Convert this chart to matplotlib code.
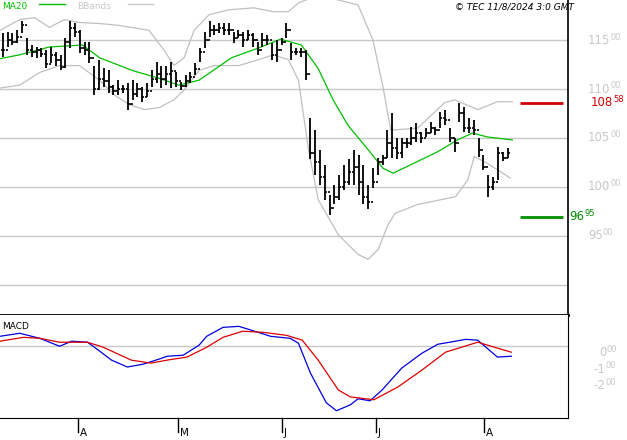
import matplotlib
matplotlib.use("Agg")
import matplotlib.pyplot as plt
import numpy as np

highs = [115.7,115.8,115.7,116.0,117.0,115.2,114.5,114.3,114.2,114.0,114.3,113.8,113.5,115.2,117.0,116.8,116.0,114.8,114.8,112.4,
         113.0,112.2,111.9,110.4,110.9,110.4,110.6,110.9,110.6,110.2,110.6,111.9,112.8,112.4,112.4,112.8,111.7,110.7,111.4,111.7,
         112.7,114.2,115.8,117.0,116.5,116.8,116.8,116.8,115.8,116.0,115.8,116.0,115.7,114.8,115.7,115.5,114.7,115.0,115.2,116.7,
         114.7,114.2,114.2,114.0,107.0,105.8,103.8,102.2,99.2,100.2,101.2,102.2,102.8,103.8,103.3,102.2,100.2,101.9,103.0,103.3,
         105.8,107.6,105.0,105.0,105.0,106.1,106.5,105.6,106.0,106.6,106.1,107.7,107.9,106.0,105.0,108.6,108.2,107.0,106.8,105.0,
         103.3,101.2,101.0,104.1,103.6,104.0]
lows = [113.3,114.3,114.5,114.7,115.7,113.5,113.3,113.2,113.3,112.1,112.7,112.4,111.9,112.2,114.2,115.3,113.7,113.5,112.7,109.4,
        109.9,110.2,109.6,109.4,109.4,109.6,107.9,108.9,109.2,108.7,109.2,110.2,110.6,110.1,110.4,110.1,110.2,109.9,110.2,110.6,
        111.4,112.8,114.2,115.3,115.5,115.7,115.5,115.5,114.7,115.2,114.3,115.0,114.3,113.5,114.3,114.5,113.0,112.8,114.5,115.2,
        113.0,113.5,113.3,110.9,102.8,101.2,100.2,98.7,97.1,98.2,98.7,99.7,100.2,100.2,99.2,98.2,97.7,99.9,101.2,102.2,
        103.0,103.0,102.8,103.0,104.0,104.3,104.6,104.5,105.1,105.5,105.3,106.0,106.3,104.6,103.6,106.6,105.6,105.5,105.3,103.1,
        101.7,99.0,99.7,100.7,102.6,103.0]
closes = [114.0,115.0,114.8,115.3,116.5,114.0,113.8,114.0,113.6,112.6,113.5,113.0,112.3,114.8,116.2,115.8,114.2,114.0,113.2,110.0,
          111.0,110.8,110.2,109.8,110.0,110.0,108.5,109.5,110.0,109.2,109.8,111.0,111.5,111.0,111.5,111.8,110.8,110.3,110.8,111.2,
          112.0,113.8,115.0,116.0,116.0,116.2,116.0,116.0,115.2,115.5,115.0,115.5,115.0,114.0,115.0,115.0,113.5,114.0,114.8,116.0,
          113.8,113.8,113.8,111.5,103.5,102.5,101.0,99.5,97.8,99.0,100.0,100.5,101.5,102.0,100.5,99.0,98.5,100.5,102.5,103.0,
          104.5,104.0,103.5,104.5,104.5,105.0,105.5,105.0,105.5,106.0,105.8,107.0,106.8,105.0,104.5,107.5,106.0,106.0,105.8,103.8,
          102.0,100.0,100.5,103.5,103.0,103.5]

ma_x = [-0.6,3.5,9.7,16.6,20.1,26.9,32.5,36.6,40.8,47.6,53.2,57.8,62.1,65.6,68.7,71.8,76.0,79.1,81.2,86.3,90.5,94.6,97.7,100.8,106.0]
ma_v = [113.1,113.5,114.3,114.5,113.2,111.9,111.1,110.4,110.9,113.2,114.2,115.1,114.5,112.1,108.9,106.3,103.8,101.9,101.4,102.6,103.6,104.8,105.5,105.1,104.8]
up_x = [-0.6,3.5,6.6,9.7,12.8,15.9,20.1,24.2,30.4,33.5,35.6,37.7,39.8,42.9,47.0,52.2,56.3,59.4,61.5,65.6,73.9,77.0,79.1,80.7,86.3,91.9,94.0,98.8,102.9,106.0]
up_v = [116.0,117.1,117.3,116.3,117.1,116.8,116.7,116.5,116.0,114.0,112.4,113.2,116.0,117.6,118.1,118.3,117.9,117.9,118.8,119.6,118.6,115.0,110.2,105.8,106.0,108.6,108.9,107.9,108.7,108.7]
lo_x = [-0.6,3.5,7.7,11.8,15.9,20.1,23.2,26.3,29.4,32.5,35.6,37.7,40.8,43.9,49.1,53.2,56.3,59.4,61.5,63.6,65.6,69.8,73.9,76.0,78.1,80.1,81.6,86.3,94.2,96.7,98.1,100.8,105.6]
lo_v = [110.1,110.4,111.7,112.4,112.4,110.9,109.4,108.4,107.9,108.1,108.9,109.9,111.9,112.4,112.4,113.0,113.5,113.0,110.9,103.8,98.7,95.1,93.1,92.6,93.6,96.1,97.3,98.2,99.0,100.7,103.1,102.4,100.9]

macd_x = [-0.6,3.5,7.7,11.8,14.3,17.6,19.3,22.6,25.9,29.2,32.5,34.2,37.5,40.8,42.4,45.8,49.1,52.4,55.7,59.8,61.5,64.0,67.3,69.4,72.3,73.9,76.4,78.9,83.0,87.2,90.5,93.0,96.3,98.8,102.9,105.8]
macd_v = [0.94,1.12,0.82,0.35,0.65,0.59,0.24,-0.47,-0.88,-0.71,-0.41,-0.24,-0.18,0.41,0.94,1.47,1.53,1.24,0.94,0.82,0.53,-1.24,-3.0,-3.47,-3.12,-2.76,-2.88,-2.24,-0.94,-0.06,0.47,0.59,0.76,0.71,-0.29,-0.24]
sig_x = [-0.6,4.3,7.7,11.8,17.6,20.9,26.7,30.8,34.2,38.3,42.4,45.8,49.9,54.0,59.0,62.3,65.6,69.8,72.3,77.2,82.2,87.2,92.1,98.8,102.9,105.8]
sig_v = [0.65,0.88,0.82,0.59,0.59,0.29,-0.47,-0.65,-0.47,-0.29,0.29,0.88,1.24,1.18,1.0,0.71,-0.47,-2.24,-2.65,-2.82,-2.06,-1.06,0.0,0.59,0.24,0.0]

month_pos = [15.7, 36.4, 58.0, 77.6, 100.2]
month_lbl = ["A", "M", "J", "J", "A"]
price_ticks = [115, 110, 105, 100, 95]
res_level, sup_level = 108.58, 96.95
macd_ticks = [0, -1, -2]

fig = plt.figure(figsize=(6.27, 4.40), dpi=100)
ax = fig.add_axes([0, 0.284, 0.906, 0.716])
ax2 = fig.add_axes([0, 0.05, 0.906, 0.234])
xl = (-0.6, 117.6)

for a in (ax, ax2):
    a.set_xlim(*xl)
    for s in a.spines.values():
        s.set_visible(False)
    a.set_xticks([]); a.set_yticks([])

ax.set_ylim(86.9, 119.1)
for p in price_ticks + [90]:
    ax.axhline(p, color="#c8c8c8", lw=1, zorder=0)
ax.plot(up_x, up_v, color="#c0c0c0", lw=0.9)
ax.plot(lo_x, lo_v, color="#c0c0c0", lw=0.9)
ax.plot(ma_x, ma_v, color="#00c000", lw=0.9)
n = len(closes)
x = np.arange(n)
ax.vlines(x, lows, highs, color="black", lw=1.3)
opens = [closes[0]] + closes[:-1]
ax.hlines(opens, x - 0.45, x, color="black", lw=1.2)
ax.hlines(closes, x, x + 0.45, color="black", lw=1.2)
ax.hlines(res_level, 107.5, 116.5, color="#d00000", lw=2)
ax.hlines(sup_level, 107.5, 116.5, color="#009000", lw=2)
ax.spines["right"].set_visible(True); ax.spines["right"].set_linewidth(1.2)
ax.spines["bottom"].set_visible(True); ax.spines["bottom"].set_linewidth(2)

fig.canvas.draw()
inv = fig.transFigure.inverted()

def lab(a, y, main, small, color, xpos):
    t = a.text(xpos, y, main, transform=a.get_yaxis_transform(), color=color,
               fontsize=8.5, va="center", ha="left", clip_on=False)
    bb = t.get_window_extent(renderer=fig.canvas.get_renderer())
    xx = inv.transform((bb.x1, bb.y1))[0]
    yy = inv.transform(a.transData.transform((0, y)))[1]
    fig.text(xx, yy + 0.007, small, color=color, fontsize=6, va="center", ha="left")

for p in price_ticks:
    lab(ax, p, str(p), "00", "#c8c8c8", 1.035)
lab(ax, res_level, "108", "58", "#d00000", 1.04)
lab(ax, sup_level, "96", "95", "#009000", 1.002)

ax.text(0.003, 0.995, "MA20", transform=ax.transAxes, color="#00c000", fontsize=6.5, va="top")
ax.plot([0.068, 0.115], [0.987, 0.987], transform=ax.transAxes, color="#00c000", lw=1, clip_on=False)
ax.text(0.135, 0.995, "BBands", transform=ax.transAxes, color="#c8c8c8", fontsize=6.5, va="top")
ax.plot([0.225, 0.27], [0.987, 0.987], transform=ax.transAxes, color="#c8c8c8", lw=1, clip_on=False)
fig.text(0.915, 0.995, "© TEC 11/8/2024 3:0 GMT", ha="right", va="top", fontsize=6.5, style="italic")

ax2.set_ylim(-3.9, 2.2)
ax2.axhline(0.35, color="#c8c8c8", lw=1, zorder=0)
ax2.plot(macd_x, macd_v, color="#0000dd", lw=0.9)
ax2.plot(sig_x, sig_v, color="#dd0000", lw=0.9)
ax2.spines["right"].set_visible(True)
ax2.spines["bottom"].set_visible(True)
ax2.text(0.003, 0.93, "MACD", transform=ax2.transAxes, fontsize=6.5, va="top")
for v in macd_ticks:
    lab(ax2, v, str(v), "00", "#c8c8c8", 1.055 if v == 0 else 1.045)

for mp, ml in zip(month_pos, month_lbl):
    ax2.plot([mp, mp], [0, -0.14], transform=ax2.get_xaxis_transform(), color="black", lw=1, clip_on=False)
    ax2.text(mp + 0.4, -0.1, ml, transform=ax2.get_xaxis_transform(), fontsize=7.5, va="top", ha="left")

fig.savefig("out.png", dpi=100)
